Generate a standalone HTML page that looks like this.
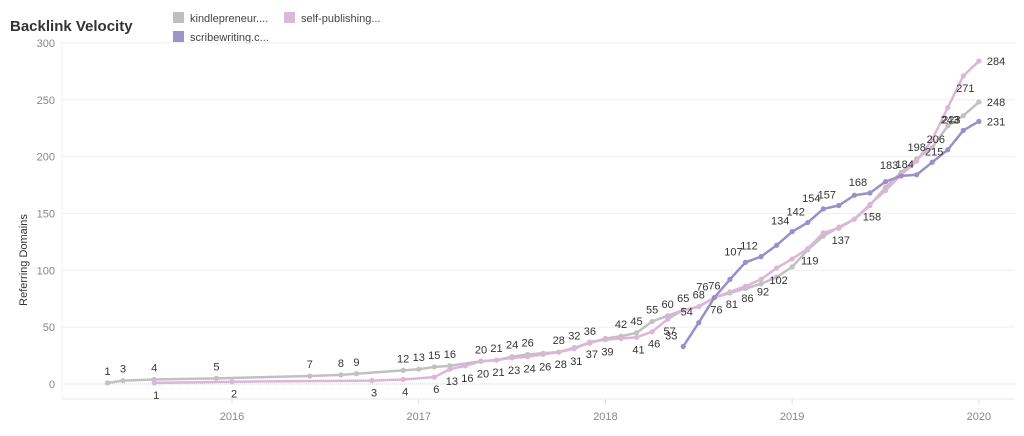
<!DOCTYPE html>
<html><head><meta charset="utf-8"><style>
body{margin:0;background:#fff;font-family:"Liberation Sans",sans-serif;}
svg text{font-family:"Liberation Sans",sans-serif;}
</style></head><body>
<svg width="1024" height="431" viewBox="0 0 1024 431" xmlns="http://www.w3.org/2000/svg">
<text x="10" y="31" font-size="15" font-weight="bold" fill="#333">Backlink Velocity</text>
<g>
<g><rect x="173" y="12" width="11" height="11" fill="#c0bebf"/><text x="190" y="22" font-size="11" fill="#444">kindlepreneur....</text></g>
<g><rect x="284" y="12" width="11" height="11" fill="#dbb8d8"/><text x="301" y="22" font-size="11" fill="#444">self-publishing...</text></g>
<g><rect x="173" y="31" width="11" height="11" fill="#9d92c9"/><text x="190" y="41" font-size="11" fill="#444">scribewriting.c...</text></g>
</g>
<text transform="translate(27,260) rotate(-90)" text-anchor="middle" font-size="11" fill="#333">Referring Domains</text>
<g id="grid"></g><g id="axes"></g><g id="series"></g><g id="labels"></g>
</svg>
<script>
const yTicks=[0,50,100,150,200,250,300];
const xTickLabels=["2016","2017","2018","2019","2020"];
const grayMonths=[-8,-7,-5,-1,5,7,8,11,12,13,14,16,17,18,19,20,21,22,23,24,25,26,27,28,29,30,31,32,33,34,35,36,37,38,39,40,41,42,43,44,45,46,47,48];
const grayValues=[1,3,4,5,7,8,9,12,13,15,16,20,21,24,26,27,28,32,36,40,42,45,55,60,65,68,76,80,84,88,94,103,118,130,138,145,157,173,186,198,208,227,236,248];
const grayLabels=[1,3,4,5,7,8,9,12,13,15,16,20,21,24,26,null,28,32,36,null,42,45,55,60,65,68,76,null,null,null,null,null,null,null,null,null,null,null,null,198,null,null,null,248];
const pinkMonths=[-5,0,9,11,13,14,15,16,17,18,19,20,21,22,23,24,25,26,27,28,29,30,31,32,33,34,35,36,37,38,39,40,41,42,43,44,45,46,47,48];
const pinkValues=[1,2,3,4,6,13,16,20,21,23,24,26,28,31,37,39,40,41,46,57,65,68,76,81,86,92,102,110,119,133,137,145,158,170,184,196,215,243,271,284];
const pinkLabels=[1,2,3,4,6,13,16,20,21,23,24,26,28,31,37,39,null,41,46,57,null,null,76,81,86,92,102,null,119,null,137,null,158,null,null,null,215,243,271,284];
const purpleMonths=[29,30,31,32,33,34,35,36,37,38,39,40,41,42,43,44,45,46,47,48];
const purpleValues=[33,54,76,92,107,112,122,134,142,154,157,166,168,178,183,184,195,206,223,231];
const purpleLabels=[33,54,76,null,107,112,null,134,142,154,157,null,168,null,183,184,null,206,223,231];
const NS="http://www.w3.org/2000/svg";
const xScale=m=>232+m*15.56;
const yScale=v=>384-v*1.137;
function mk(tag,attrs,parent){const e=document.createElementNS(NS,tag);for(const k in attrs)e.setAttribute(k,attrs[k]);parent.appendChild(e);return e;}
const grid=document.getElementById('grid'),axes=document.getElementById('axes'),ser=document.getElementById('series'),lab=document.getElementById('labels');
yTicks.forEach(v=>{
 const l=mk('line',{x1:62,x2:1015,y1:yScale(v),y2:yScale(v),stroke:v===0?'#ccc':'#efefef','stroke-dasharray':v===0?'1,1':'none'},grid);
 
 
 const t=mk('text',{x:55,y:yScale(v)+4,'text-anchor':'end','font-size':'11',fill:'#888'},axes);t.textContent=v;
 
 
});
const ax=mk('line',{x1:62,x2:1015,y1:399,y2:399,stroke:'#e8e8e8'},axes);


const vl=mk('line',{x1:62,x2:62,y1:43,y2:399,stroke:'#f0f0f0'},axes);


xTickLabels.forEach((s,i)=>{
 const x=xScale(i*12);
 const tk=mk('line',{x1:x,x2:x,y1:399,y2:404,stroke:'#ddd'},axes);
 
 
 const t=mk('text',{x:x,y:420,'text-anchor':'middle','font-size':'11',fill:'#888'},axes);t.textContent=s;
 
 
});
function drawSeries(name,months,values,labels,color,dx,dy){
 const pts=months.map((m,i)=>xScale(m)+','+yScale(values[i])).join(' ');
 const pl=mk('polyline',{points:pts,fill:'none',stroke:color,'stroke-width':2.5,'stroke-linejoin':'round'},ser);
 
 
 months.forEach((m,i)=>{
  const c=mk('circle',{cx:xScale(m),cy:yScale(values[i]),r:2.6,fill:color},ser);
  
  
  if(labels[i]!==null){
   const last=i===months.length-1;
   const t=mk('text',{x:xScale(m)+(last?8:dx),y:yScale(values[i])+(last?4:dy),'text-anchor':last?'start':'middle','font-size':'11',fill:'#333'},lab);
   t.textContent=labels[i];
   
   
  }
 });
}
drawSeries('kindlepreneur',grayMonths,grayValues,grayLabels,'#c2c0c1',0,-8);
drawSeries('self-publishing',pinkMonths,pinkValues,pinkLabels,'#dcb6d9',2,16);
drawSeries('scribewriting',purpleMonths,purpleValues,purpleLabels,'#9a8fc8',-12,-7);
</script>
</body></html>
